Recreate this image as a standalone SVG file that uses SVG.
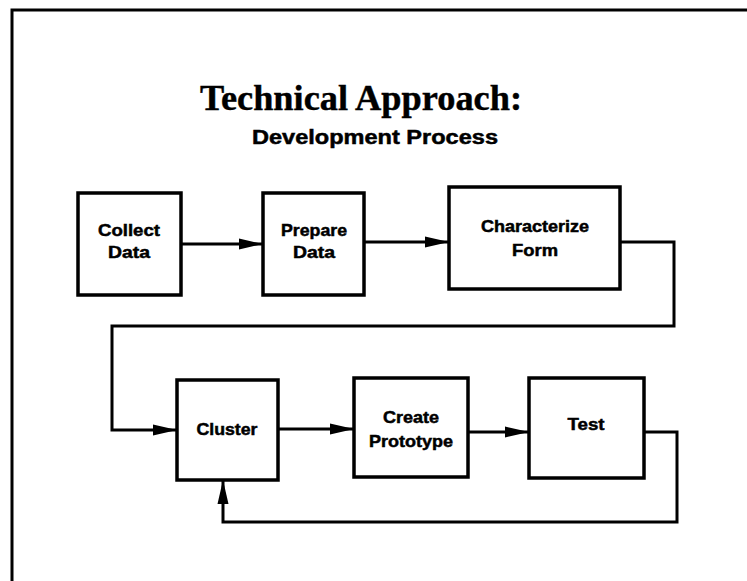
<svg xmlns="http://www.w3.org/2000/svg" width="747" height="581" viewBox="0 0 747 581">
  <defs>
    <marker id="arrow" markerWidth="24" markerHeight="14" refX="24" refY="7" orient="auto" markerUnits="userSpaceOnUse">
      <path d="M0,1.5 L24,7 L0,12.5 Z" fill="#000"/>
    </marker>
  </defs>
  <style>
    .box { fill: #fff; stroke: #000; stroke-width: 3.5; }
    .wire { fill: none; stroke: #000; stroke-width: 3; }
    .lbl { font-family: "Liberation Sans", Arial, sans-serif; font-weight: bold; font-size: 17px; text-anchor: middle; fill: #000; stroke: #000; stroke-width: 0.5; }
    .title { font-family: "Liberation Serif", "Times New Roman", serif; font-weight: bold; font-size: 35px; fill: #000; stroke: #000; stroke-width: 0.4; }
    .sub { font-family: "Liberation Sans", Arial, sans-serif; font-weight: bold; font-size: 20px; fill: #000; stroke: #000; stroke-width: 0.5; }
  </style>
  <rect width="747" height="581" fill="#fff"/>

  <!-- page frame: top and left edges only -->
  <path d="M12,581 L12,10 L747,10" fill="none" stroke="#000" stroke-width="3"/>

  <text class="title" x="200" y="110" textLength="322" lengthAdjust="spacingAndGlyphs">Technical Approach:</text>
  <text class="sub" x="252" y="144" textLength="246" lengthAdjust="spacingAndGlyphs">Development Process</text>

  <g id="connectors">
    <path class="wire" d="M181,244 L263,244" marker-end="url(#arrow)"/>
    <path class="wire" d="M364,242 L449,242" marker-end="url(#arrow)"/>
    <path class="wire" d="M620,242 L674,242 L674,326 L112,326 L112,430 L177,430" marker-end="url(#arrow)"/>
    <path class="wire" d="M278,429 L354,429" marker-end="url(#arrow)"/>
    <path class="wire" d="M468,432 L529,432" marker-end="url(#arrow)"/>
    <path class="wire" d="M644,432 L677,432 L677,522 L223,522 L223,480" marker-end="url(#arrow)"/>
  </g>

  <g id="collect-data">
    <rect class="box" x="78" y="193" width="103" height="102"/>
    <text class="lbl" x="129" y="236" textLength="62" lengthAdjust="spacingAndGlyphs">Collect</text>
    <text class="lbl" x="129" y="258" textLength="42" lengthAdjust="spacingAndGlyphs">Data</text>
  </g>
  <g id="prepare-data">
    <rect class="box" x="263" y="193" width="101" height="102"/>
    <text class="lbl" x="314" y="236" textLength="66" lengthAdjust="spacingAndGlyphs">Prepare</text>
    <text class="lbl" x="314" y="258" textLength="42" lengthAdjust="spacingAndGlyphs">Data</text>
  </g>
  <g id="characterize-form">
    <rect class="box" x="449" y="187" width="171" height="102"/>
    <text class="lbl" x="535" y="232" textLength="108" lengthAdjust="spacingAndGlyphs">Characterize</text>
    <text class="lbl" x="535" y="256" textLength="46" lengthAdjust="spacingAndGlyphs">Form</text>
  </g>
  <g id="cluster">
    <rect class="box" x="177" y="380" width="101" height="100"/>
    <text class="lbl" x="227" y="435" textLength="61" lengthAdjust="spacingAndGlyphs">Cluster</text>
  </g>
  <g id="create-prototype">
    <rect class="box" x="354" y="378" width="114" height="99"/>
    <text class="lbl" x="411" y="423" textLength="56" lengthAdjust="spacingAndGlyphs">Create</text>
    <text class="lbl" x="411" y="447" textLength="84" lengthAdjust="spacingAndGlyphs">Prototype</text>
  </g>
  <g id="test">
    <rect class="box" x="529" y="378" width="115" height="100"/>
    <text class="lbl" x="586" y="430" textLength="37" lengthAdjust="spacingAndGlyphs">Test</text>
  </g>
</svg>
